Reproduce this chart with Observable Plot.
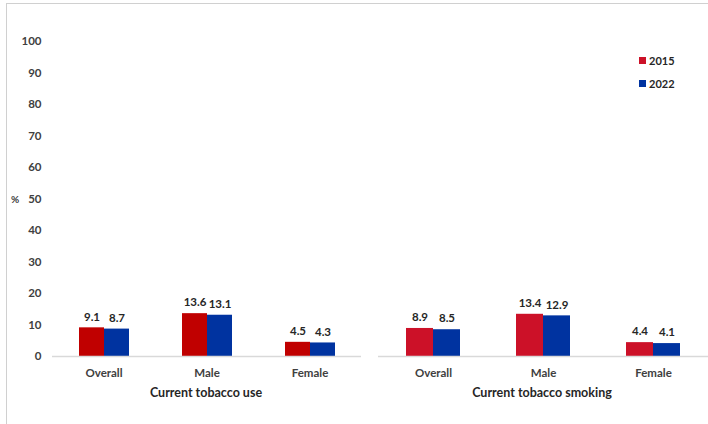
<!DOCTYPE html>
<html>
<head>
<meta charset="utf-8">
<script src="https://cdn.jsdelivr.net/npm/d3@7"></script>
<script src="https://cdn.jsdelivr.net/npm/@observablehq/plot@0.6"></script>
<style>
  html, body { margin: 0; padding: 0; background: #fff; }
  #chart { position: relative; width: 708px; height: 424px; overflow: hidden; font-family: Lato, "Open Sans", sans-serif; color: #404040; }
  #frame { position: absolute; left: 6px; top: 3px; width: 720px; height: 440px; border-top: 1px solid #d0d0d0; border-left: 1px solid #d0d0d0; }
  .panel { position: absolute; top: 0; }
  .title { position: absolute; font-size: 12.5px; font-weight: bold; color: #262626; transform: translate(-50%, -50%); white-space: nowrap; }
  .pct { position: absolute; left: 11px; top: 193px; font-size: 10px; font-weight: bold; }
  .legend { position: absolute; left: 639px; font-size: 11px; font-weight: bold; color: #262626; display: flex; align-items: center; }
  .legend span.sw { display: inline-block; width: 7px; height: 7px; margin-right: 3px; }
</style>
</head>
<body>
<div id="chart">
  <div id="frame"></div>
</div>
<script>
// Prevalence (%) by sex, survey years 2015 and 2022
const groups = ["Overall", "Male", "Female"];
const years = ["2015", "2022"];
const tobaccoUse2015 = [9.1, 13.6, 4.5];
const tobaccoUse2022 = [8.7, 13.1, 4.3];
const smoking2015 = [8.9, 13.4, 4.4];
const smoking2022 = [8.5, 12.9, 4.1];
const yTicks = [0, 10, 20, 30, 40, 50, 60, 70, 80, 90, 100];
const panelTitles = ["Current tobacco use", "Current tobacco smoking"];

const blue = "#0033a0";
const redUse = "#c00000";
const redSmoking = "#cc1128";

function rows(v2015, v2022) {
  return groups.flatMap((g, i) => [
    {group: g, year: "2015", value: v2015[i]},
    {group: g, year: "2022", value: v2022[i]}
  ]);
}

function panel({data, red, width, marginLeft, showY}) {
  return Plot.plot({
    width,
    height: 424,
    marginTop: 41,
    marginBottom: 68,
    marginLeft,
    marginRight: 0,
    style: {fontFamily: "Lato, 'Open Sans', sans-serif", fontSize: "11.5px", fontWeight: "bold", color: "#404040", background: "transparent", overflow: "visible"},
    fx: {domain: groups, padding: 0, label: null, tickSize: 0, tickPadding: 12, axis: "bottom"},
    x: {domain: years, paddingInner: 0, paddingOuter: 1, axis: null},
    y: showY
      ? {domain: [0, 100], ticks: yTicks, tickSize: 0, tickPadding: 11, label: null}
      : {domain: [0, 100], axis: null},
    color: {domain: years, range: [red, blue]},
    marks: [
      Plot.barY(data, {fx: "group", x: "year", y: "value", fill: "year", inset: 0}),
      Plot.ruleY([0], {stroke: "#d9d9d9", strokeWidth: 1.5}),
      Plot.text(data, {fx: "group", x: "year", y: "value", text: d => d.value.toFixed(1), dy: -11, fill: "#262626"})
    ]
  });
}

const chart = document.getElementById("chart");

const left = panel({data: rows(tobaccoUse2015, tobaccoUse2022), red: redUse, width: 361, marginLeft: 52, showY: true});
const leftWrap = document.createElement("div");
leftWrap.className = "panel";
leftWrap.style.left = "0px";
leftWrap.appendChild(left);
chart.appendChild(leftWrap);

const right = panel({data: rows(smoking2015, smoking2022), red: redSmoking, width: 348, marginLeft: 17, showY: false});
const rightWrap = document.createElement("div");
rightWrap.className = "panel";
rightWrap.style.left = "360px";
rightWrap.appendChild(right);
chart.appendChild(rightWrap);

// Panel titles centred under each group of bars
[[206, panelTitles[0]], [542, panelTitles[1]]].forEach(([cx, t]) => {
  const d = document.createElement("div");
  d.className = "title";
  d.style.left = cx + "px";
  d.style.top = "392px";
  d.textContent = t;
  chart.appendChild(d);
});

const pct = document.createElement("div");
pct.className = "pct";
pct.textContent = "%";
chart.appendChild(pct);

// Legend
[[years[0], redSmoking, 54], [years[1], blue, 77]].forEach(([label, c, top]) => {
  const d = document.createElement("div");
  d.className = "legend";
  d.style.top = top + "px";
  d.innerHTML = `<span class="sw" style="background:${c}"></span>${label}`;
  chart.appendChild(d);
});
</script>
</body>
</html>
